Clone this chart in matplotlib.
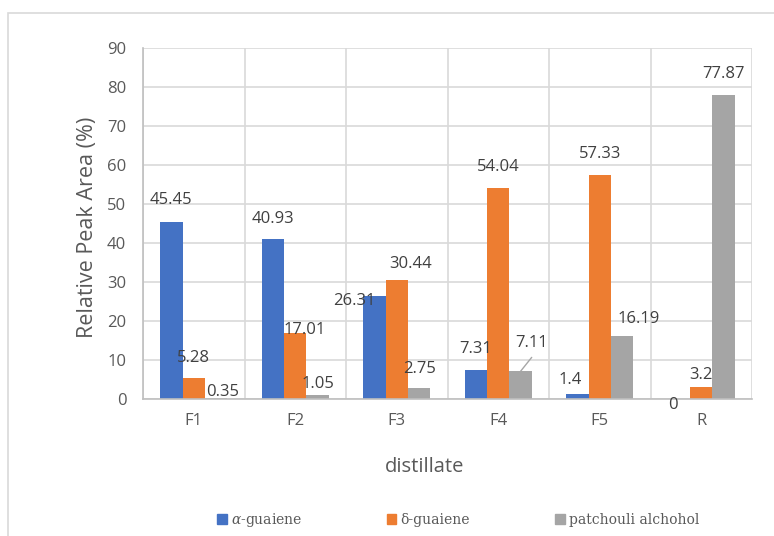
import numpy as np
import matplotlib
matplotlib.use("Agg")
import matplotlib.pyplot as plt
from matplotlib.patches import Rectangle

distillates = ["F1", "F2", "F3", "F4", "F5", "R"]
alpha_guaiene = [45.45, 40.93, 26.31, 7.31, 1.4, 0]
delta_guaiene = [5.28, 17.01, 30.44, 54.04, 57.33, 3.2]
patchouli = [0.35, 1.05, 2.75, 7.11, 16.19, 77.87]

series = [alpha_guaiene, delta_guaiene, patchouli]
colors = ["#4472C4", "#ED7D31", "#A5A5A5"]

# label nudges (points) relative to the top-centre of each bar
nudges = [
    [(0, 15.5), (0, 15), (-14.5, -3), (0, 15.5), (-5, 10), (-4.5, -4)],
    [(0, 15), (7, 2), (10, 12), (0, 15.5), (0, 15.5), (0, 8.5)],
    [(5, 4), (0, 7.5), (0, 14), (8, 20), (12, 12), (0, 15)],
]

plt.rcParams["font.family"] = ["Open Sans", "DejaVu Sans"]
plt.rcParams["mathtext.fontset"] = "dejavuserif"

fig = plt.figure(figsize=(7.74, 5.36), dpi=100)
fig.patches.append(Rectangle((8 / 774, -0.01), 1.0, 1 - 13 / 536 + 0.01,
                             transform=fig.transFigure, fill=False,
                             edgecolor="#d9d9d9", linewidth=1.2))

ax = fig.add_axes([143 / 774, 1 - 399 / 536, (752 - 143) / 774, (399 - 48) / 536])

x = np.arange(len(distillates))
w = 0.22
for i, (vals, c) in enumerate(zip(series, colors)):
    pos = x + (i - 1) * w
    ax.bar(pos, vals, w, color=c, zorder=3)
    for j, (p, v) in enumerate(zip(pos, vals)):
        dx, dy = nudges[i][j]
        ax.annotate(f"{v:g}", (p, v), xytext=(dx, dy), textcoords="offset points",
                    ha="center", va="center", fontsize=12, color="#404040", zorder=5)

# leader line for the F4 patchouli label
ax.annotate("", (3 + w, patchouli[3]), xytext=(8, 10), textcoords="offset points",
            arrowprops=dict(arrowstyle="-", color="#a6a6a6", lw=1,
                            shrinkA=0, shrinkB=0), zorder=4)

ax.set_xlim(-0.5, len(distillates) - 0.5)
ax.set_ylim(0, 90)
ax.set_yticks(np.arange(0, 91, 10))
ax.set_xticks(x)
ax.set_xticklabels(distillates)
ax.set_xticks(np.arange(-0.5, len(distillates), 1), minor=True)
ax.grid(True, which="minor", axis="x", color="#d9d9d9", lw=1.2, zorder=0)
ax.grid(True, which="major", axis="y", color="#d9d9d9", lw=1.2, zorder=0)
ax.tick_params(axis="both", which="both", length=0, labelsize=12, colors="#595959")
ax.tick_params(axis="y", pad=12)
ax.tick_params(axis="x", pad=10)
for s in ["top", "right"]:
    ax.spines[s].set_visible(False)
for s in ["bottom", "left"]:
    ax.spines[s].set_color("#bfbfbf")
    ax.spines[s].set_linewidth(1.2)
    ax.spines[s].set_zorder(4)

ax.set_ylabel("Relative Peak Area (%)", fontsize=15.5, color="#595959")
ax.yaxis.set_label_coords(-0.074, 0.49)
ax.set_xlabel("distillate", fontsize=14.5, color="#595959")
ax.xaxis.set_label_coords(0.463, -0.165)

handles = [Rectangle((0, 0), 1, 1, color=c) for c in colors]
leg = fig.legend(handles, [r"$\alpha$-guaiene", "δ-guaiene", "patchouli alchohol"],
                 loc="center", bbox_to_anchor=(458 / 774, 1 - 520 / 536), ncol=3,
                 frameon=False, handlelength=0.7, handleheight=0.7, handletextpad=0.3,
                 columnspacing=6.1, prop={"family": "DejaVu Serif", "size": 10})
for t in leg.get_texts():
    t.set_color("#595959")

fig.savefig("out.png", dpi=100)
